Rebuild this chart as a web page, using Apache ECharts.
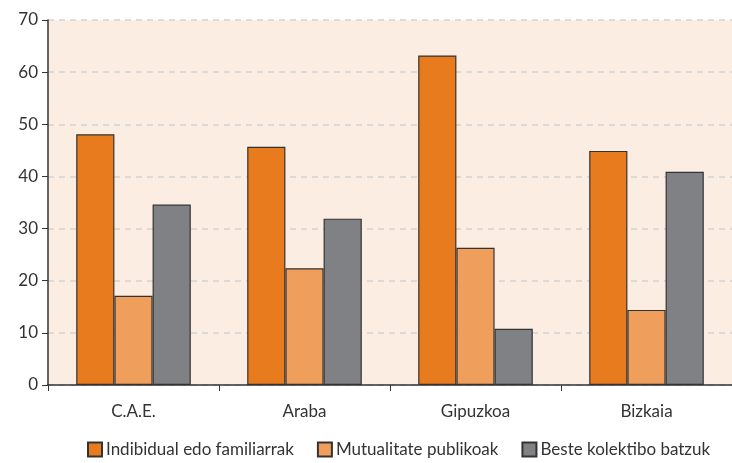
<!DOCTYPE html>
<html><head><meta charset="utf-8">
<script src="https://cdn.jsdelivr.net/npm/echarts@6/dist/echarts.min.js"></script>
<style>html,body{margin:0;padding:0;background:#fff}#c{width:732px;height:463px}</style>
</head><body><div id="c"></div>
<script>
const categories = ['C.A.E.', 'Araba', 'Gipuzkoa', 'Bizkaia'];
const seriesNames = ['Indibidual edo familiarrak', 'Mutualitate publikoak', 'Beste kolektibo batzuk'];
const indibidual = [48.1, 45.7, 63.2, 44.9];
const mutualitate = [17.1, 22.4, 26.3, 14.4];
const beste = [34.6, 31.9, 10.8, 40.9];
const colors = ['#E87B1E', '#F09E5C', '#808184'];
const FONT = 'Lato, sans-serif';

const chart = echarts.init(document.getElementById('c'));
const values = [indibidual, mutualitate, beste];
chart.setOption({
  animation: false,
  textStyle: { fontFamily: FONT },
  grid: { left: 48, right: 0, top: 20, bottom: 78, show: true, backgroundColor: '#FBEDE1', borderWidth: 0 },
  legend: {
    top: 436, left: 82, itemWidth: 14, itemHeight: 14, itemGap: 23,
    icon: 'rect',
    textStyle: { fontSize: 17, color: '#333', fontFamily: FONT, padding: [0, 0, 0, -1] },
    data: seriesNames
  },
  xAxis: {
    type: 'category', data: categories,
    axisLine: { lineStyle: { color: '#333', width: 1.5 } },
    axisTick: { show: true, length: 6, lineStyle: { color: '#333' } },
    axisLabel: { fontSize: 17, color: '#333', margin: 18, fontFamily: FONT }
  },
  yAxis: {
    type: 'value', min: 0, max: 70, interval: 10,
    axisLine: { show: true, lineStyle: { color: '#333', width: 1.5 } },
    axisTick: { show: true, length: 6, lineStyle: { color: '#333' } },
    axisLabel: { fontSize: 17, color: '#333', margin: 10, fontFamily: FONT },
    splitLine: { lineStyle: { color: '#D2D2D2', type: [6, 5], width: 1.5 } }
  },
  series: values.map((v, i) => ({
    name: seriesNames[i], type: 'bar', data: v,
    barCategoryGap: '33%', barGap: '0%',
    itemStyle: { color: colors[i], borderColor: '#333', borderWidth: 1.2 }
  }))
});
</script></body></html>
